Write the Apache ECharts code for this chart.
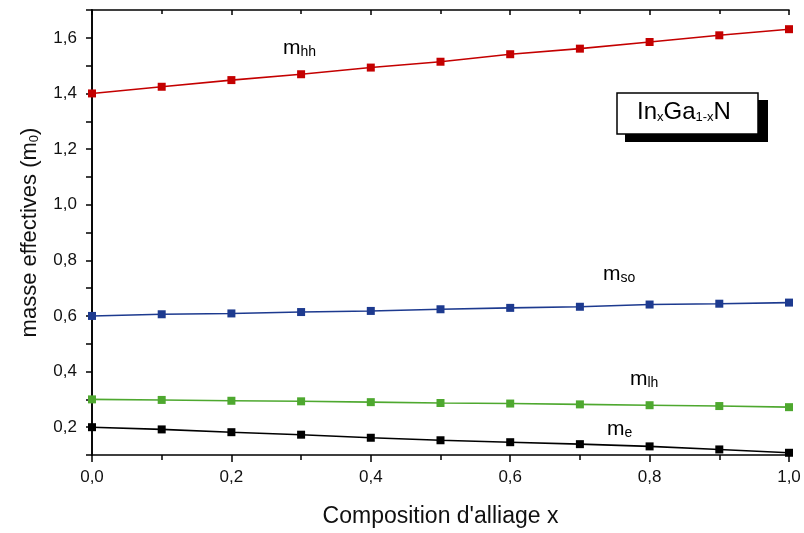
<!DOCTYPE html>
<html>
<head>
<meta charset="utf-8">
<script src="https://cdn.jsdelivr.net/npm/echarts@6/dist/echarts.min.js"></script>
<style>html,body{margin:0;padding:0;background:#fff}#c{width:804px;height:533px}</style>
</head>
<body>
<div id="c"></div>
<script>
const xValues = [0.0, 0.1, 0.2, 0.3, 0.4, 0.5, 0.6, 0.7, 0.8, 0.9, 1.0];
const mHH = [1.400, 1.424, 1.448, 1.469, 1.493, 1.514, 1.541, 1.561, 1.585, 1.609, 1.631];
const mSO = [0.600, 0.606, 0.609, 0.614, 0.618, 0.624, 0.629, 0.633, 0.641, 0.644, 0.648];
const mLH = [0.300, 0.298, 0.295, 0.293, 0.290, 0.287, 0.285, 0.282, 0.279, 0.276, 0.272];
const mE  = [0.200, 0.192, 0.182, 0.173, 0.162, 0.153, 0.146, 0.139, 0.131, 0.120, 0.108];

const FONT = '"Liberation Sans", Arial, sans-serif';
const fmt = v => (Math.round(v * 10) % 2 === 0) ? v.toFixed(1).replace('.', ',') : '';

function mkSeries(name, vals, color) {
  return {
    name: name, type: 'line', data: xValues.map((x, i) => [x, vals[i]]),
    symbol: 'rect', symbolSize: 8, showSymbol: true,
    lineStyle: { color: color, width: 1.6 }, itemStyle: { color: color },
    animation: false, z: 3
  };
}

function rich(color, big, small) {
  return {
    m: { fontFamily: FONT, fontSize: big, color: color, lineHeight: big + 2, verticalAlign: 'bottom' },
    s: { fontFamily: FONT, fontSize: small, color: color, lineHeight: 0, verticalAlign: 'bottom' }
  };
}

function lbl(x, y, main, sub, color) {
  return {
    type: 'text', left: x, top: y, z: 10,
    style: { text: '{m|' + main + '}{s|' + sub + '}', rich: rich(color, 21, 14) }
  };
}

const chart = echarts.init(document.getElementById('c'), null, { renderer: 'canvas' });
chart.setOption({
  animation: false,
  grid: { left: 92, right: 15, top: 10, bottom: 75 },
  xAxis: [{
    type: 'value', min: 0, max: 1, interval: 0.2, position: 'bottom',
    axisLine: { lineStyle: { color: '#000', width: 1.6 } },
    axisTick: { show: true, length: 7, lineStyle: { color: '#000', width: 1.5 } },
    minorTick: { show: true, splitNumber: 2, length: 5, lineStyle: { color: '#000', width: 1.5 } },
    splitLine: { show: false },
    axisLabel: { formatter: v => v.toFixed(1).replace('.', ','), fontFamily: FONT, fontSize: 17, color: '#111', margin: 14 },
    name: "Composition d'alliage x", nameLocation: 'middle', nameGap: 50,
    nameTextStyle: { fontFamily: FONT, fontSize: 23, color: '#111' }
  }, {
    type: 'value', min: 0, max: 1, interval: 0.2, position: 'top',
    axisLine: { show: true, lineStyle: { color: '#000', width: 1.6 } },
    axisTick: { show: true, inside: true, length: 5, lineStyle: { color: '#000', width: 1.5 } },
    minorTick: { show: true, splitNumber: 2, length: 4, lineStyle: { color: '#000', width: 1.5 } },
    splitLine: { show: false }, axisLabel: { show: false }
  }],
  yAxis: [{
    type: 'value', min: 0.1, max: 1.7, interval: 0.1, position: 'left',
    axisLine: { show: true, lineStyle: { color: '#000', width: 1.6 } },
    axisTick: { show: true, length: 6, lineStyle: { color: '#000', width: 1.5 } },
    splitLine: { show: false },
    axisLabel: { formatter: fmt, fontFamily: FONT, fontSize: 17, color: '#111', margin: 15 },
    name: '{m|masse effectives (m}{s|0}{m|)}', nameLocation: 'middle', nameGap: 51, nameRotate: 90,
    nameTextStyle: { rich: rich('#111', 22, 13) }
  }, {
    type: 'value', min: 0.1, max: 1.7, interval: 0.1, position: 'right',
    axisLine: { show: true, lineStyle: { color: '#000', width: 1.6 } },
    axisTick: { show: true, inside: true, length: 3, lineStyle: { color: '#000', width: 1.5 } },
    splitLine: { show: false }, axisLabel: { show: false }
  }],
  series: [
    mkSeries('mhh', mHH, '#c40000'),
    mkSeries('mso', mSO, '#1d3a8f'),
    mkSeries('mlh', mLH, '#4ea82f'),
    mkSeries('me', mE, '#000000')
  ],
  graphic: [
    lbl(283, 38, 'm', 'hh', '#c40000'),
    lbl(603, 264, 'm', 'so', '#1d3a8f'),
    lbl(630, 369, 'm', 'lh', '#5cb33a'),
    lbl(607, 419, 'm', 'e', '#000000'),
    { type: 'rect', shape: { x: 625, y: 100, width: 143, height: 42 }, style: { fill: '#000' }, z: 9 },
    { type: 'rect', shape: { x: 617, y: 93, width: 141, height: 41 }, style: { fill: '#fff', stroke: '#000', lineWidth: 1.5 }, z: 10 },
    {
      type: 'text', left: 637, top: 100, z: 11,
      style: { text: '{m|In}{s|x}{m|Ga}{s|1-x}{m|N}', rich: rich('#111', 24, 13) }
    }
  ]
});
</script>
</body>
</html>
